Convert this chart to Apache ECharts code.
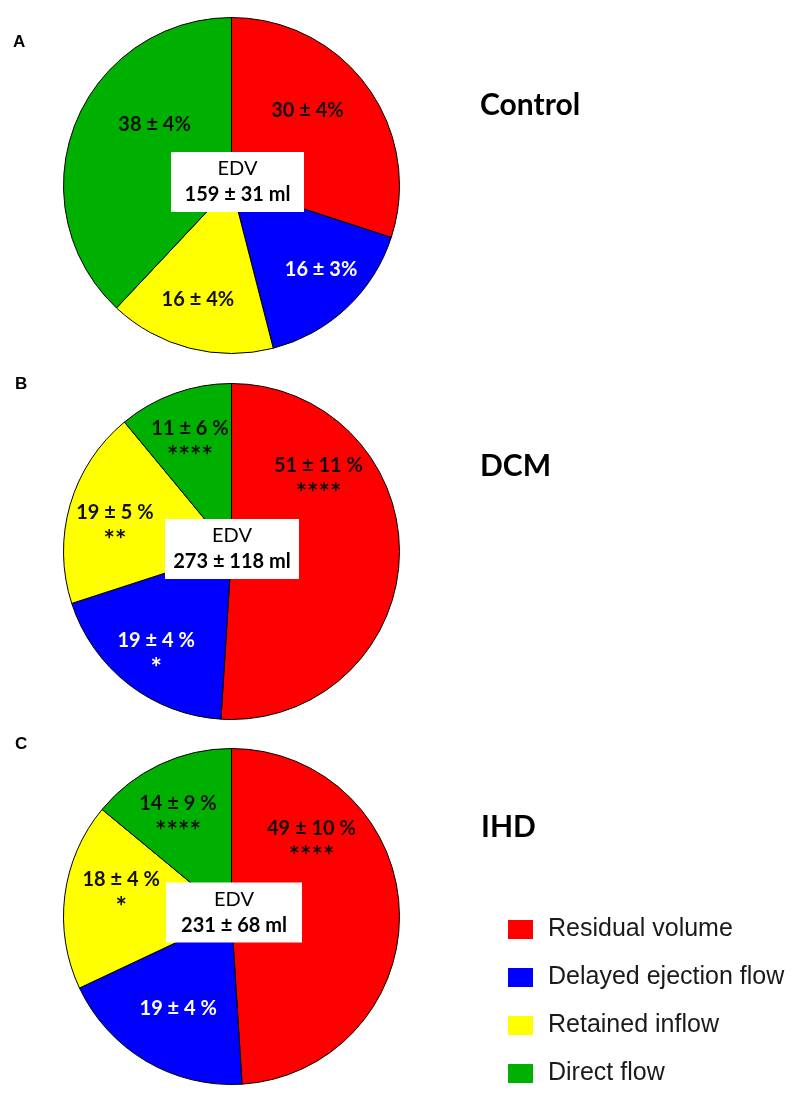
<!DOCTYPE html>
<html><head><meta charset="utf-8">
<script src="https://cdn.jsdelivr.net/npm/echarts@6/dist/echarts.min.js"></script>
<style>html,body{margin:0;padding:0;background:#fff}#c{width:800px;height:1102px}</style>
</head><body><div id="c"></div>
<script>
// ---------------- data ----------------
const categories = ['Residual volume', 'Delayed ejection flow', 'Retained inflow', 'Direct flow'];
const groups = ['Control', 'DCM', 'IHD'];
const panelLetters = ['A', 'B', 'C'];
const controlMean = [30, 16, 16, 38];
const controlSD = [4, 3, 4, 4];
const controlSig = ['', '', '', ''];
const dcmMean = [51, 19, 19, 11];
const dcmSD = [11, 4, 5, 6];
const dcmSig = ['****', '*', '**', '****'];
const ihdMean = [49, 19, 18, 14];
const ihdSD = [10, 4, 4, 9];
const ihdSig = ['****', '', '*', '****'];
const edvMean = [159, 273, 231];
const edvSD = [31, 118, 68];
const pctSuffix = ['%', ' %', ' %'];

// ---------------- layout & style ----------------
const MEANS = [controlMean, dcmMean, ihdMean];
const SDS = [controlSD, dcmSD, ihdSD];
const SIGS = [controlSig, dcmSig, ihdSig];
const COLORS = ['#ff0000', '#0000ff', '#ffff00', '#00b000'];
const LABEL_COLORS = ['#111', '#fff', '#111', '#111'];
const CENTERS = [[231.5, 185.5], [231.5, 551.5], [231.5, 916.5]];
const R = 168;
const NUDGE = [
  [[5.5, -24], [30, 21], [-12, 30], [4, -29]],
  [[0, -73], [-22, 36], [-33, 1], [-12, -25]],
  [[-7, -69], [-9, 17.5], [-24, -10], [-16.5, -18]]
];
const EDV_POS = [[237.5, 182], [232, 549], [234, 912.5]];
const EDV_W = [115, 116, 118];
const TITLE_POS = [[480, 105], [480, 466], [481, 827]];
const LETTER_POS = [[13, 42], [15, 384], [15, 744]];
const LABEL_FONT = 'Lato';

const chart = echarts.init(document.getElementById('c'), null, {renderer: 'canvas'});

const series = groups.map((g, i) => ({
  type: 'pie',
  name: g,
  center: CENTERS[i],
  radius: [0, R],
  startAngle: 90,
  clockwise: true,
  silent: true,
  animation: false,
  itemStyle: {borderColor: '#000', borderWidth: 1},
  label: {
    show: true,
    position: 'inside',
    formatter: p => {
      const j = p.dataIndex;
      let s = `{v|${MEANS[i][j]} ± ${SDS[i][j]}${pctSuffix[i]}}`;
      if (SIGS[i][j]) s += `\n{s|${SIGS[i][j]}}`;
      return s;
    },
    rich: {
      v: {fontFamily: LABEL_FONT, fontWeight: 'bold', fontSize: 20, lineHeight: 24},
      s: {fontFamily: LABEL_FONT, fontWeight: 'bold', fontSize: 27, lineHeight: 32}
    }
  },
  labelLine: {show: false},
  labelLayout: p => ({dx: NUDGE[i][p.dataIndex][0], dy: NUDGE[i][p.dataIndex][1]}),
  data: categories.map((c, j) => ({
    name: c,
    value: MEANS[i][j],
    itemStyle: {color: COLORS[j]},
    label: {color: LABEL_COLORS[j]}
  }))
}));

const graphic = [];
groups.forEach((g, i) => {
  graphic.push({
    type: 'text', z: 100, x: LETTER_POS[i][0], y: LETTER_POS[i][1],
    style: {text: panelLetters[i], font: 'bold 17px "Liberation Sans"', fill: '#000', align: 'left', verticalAlign: 'middle'}
  });
  graphic.push({
    type: 'text', z: 100, x: TITLE_POS[i][0], y: TITLE_POS[i][1],
    style: {text: g, font: 'bold 30px Lato', fill: '#000', align: 'left', verticalAlign: 'middle'}
  });
  graphic.push({
    type: 'text', z: 100, x: EDV_POS[i][0], y: EDV_POS[i][1],
    style: {
      text: `{a|EDV}\n{b|${edvMean[i]} ± ${edvSD[i]} ml}`,
      rich: {
        a: {fontFamily: LABEL_FONT, fontSize: 20, fontWeight: 'normal', lineHeight: 26, fill: '#000', align: 'center'},
        b: {fontFamily: LABEL_FONT, fontSize: 20, fontWeight: 'bold', lineHeight: 26, fill: '#000', align: 'center'}
      },
      width: EDV_W[i],
      align: 'center', verticalAlign: 'middle',
      backgroundColor: '#fff', padding: [4, 9], fill: '#000'
    }
  });
});

chart.setOption({
  animation: false,
  backgroundColor: '#fff',
  legend: {
    data: categories,
    orient: 'vertical',
    left: 508,
    top: 917,
    padding: 0,
    itemWidth: 25,
    itemHeight: 19,
    itemGap: 23,
    icon: 'rect',
    selectedMode: false,
    itemStyle: {borderWidth: 0},
    textStyle: {fontFamily: 'Liberation Sans', fontSize: 25, color: '#1a1a1a', lineHeight: 25, padding: [0, 0, 0, 10]}
  },
  graphic: graphic,
  series: series
});
</script>
</body></html>
